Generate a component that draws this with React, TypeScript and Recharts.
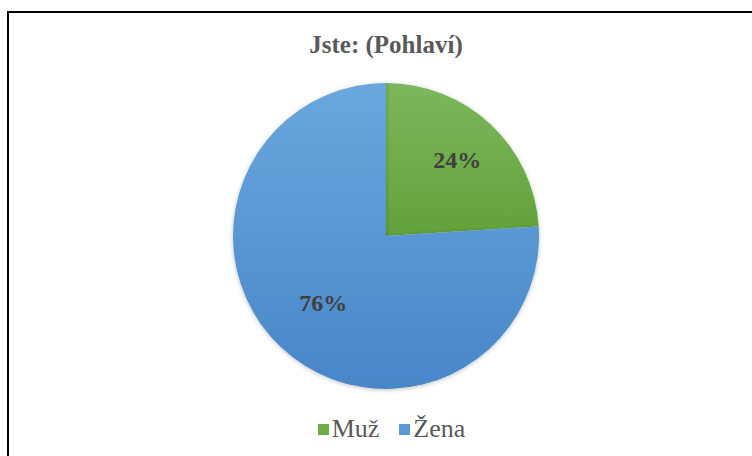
import { PieChart, Pie, Cell, Legend } from 'recharts'

const categories = ['Muž', 'Žena']
const shares = [24, 76]
const colors = ['#70AD47', '#5B9BD5']
const gradTop = ['#7DB75C', '#6AA7DE']
const gradBottom = ['#62A23A', '#4886C8']

const data = categories.map((name, i) => ({ name, value: shares[i] }))

const RAD = Math.PI / 180
const FONT = '"Liberation Serif", "Times New Roman", serif'

const renderLabel = ({ cx, cy, midAngle, outerRadius, index }: any) => {
  const r = outerRadius * (index === 0 ? 0.68 : 0.6)
  const x = cx + r * Math.cos(-midAngle * RAD)
  const y = cy + r * Math.sin(-midAngle * RAD)
  return (
    <text x={x} y={y} textAnchor="middle" dominantBaseline="central"
      style={{ fontFamily: FONT, fontSize: 24, fontWeight: 700, fill: '#404040' }}>
      {`${data[index].value}%`}
    </text>
  )
}

const LegendContent = () => (
  <div style={{ display: 'flex', justifyContent: 'center', gap: 20, fontFamily: FONT, fontSize: 26, color: '#595959' }}>
    {data.map((d, i) => (
      <span key={d.name} style={{ display: 'flex', alignItems: 'center', gap: 3 }}>
        <span style={{ width: 11, height: 11, display: 'inline-block', background: colors[i] }} />
        {d.name}
      </span>
    ))}
  </div>
)

export default function App() {
  return (
    <div style={{ position: 'absolute', left: 0, top: 0, width: 752, height: 456, overflow: 'hidden', background: '#fff' }}>
      <div style={{ position: 'absolute', left: 7, top: 11, width: 800, height: 500, border: '2px solid #000' }} />
      <div style={{ position: 'absolute', left: 0, top: 31, width: 772, textAlign: 'center', fontFamily: FONT, fontSize: 25, fontWeight: 700, color: '#595959' }}>
        Jste: (Pohlaví)
      </div>
      <div style={{ position: 'absolute', left: 0, top: 0 }}>
        <PieChart width={752} height={456} margin={{ top: 0, right: 0, bottom: 0, left: 0 }}>
          <defs>
            {colors.map((c, i) => (
              <linearGradient key={c} id={`g${i}`} x1="0" y1="0" x2="0" y2="1">
                <stop offset="0%" stopColor={gradTop[i]} />
                <stop offset="100%" stopColor={gradBottom[i]} />
              </linearGradient>
            ))}
            <filter id="sh" x="-10%" y="-10%" width="120%" height="120%">
              <feDropShadow dx="0" dy="1" stdDeviation="2" floodColor="#000" floodOpacity="0.25" />
            </filter>
          </defs>
          <Pie
            data={data}
            dataKey="value"
            nameKey="name"
            cx={386}
            cy={236}
            outerRadius={153}
            startAngle={90}
            endAngle={-270}
            stroke="none"
            label={renderLabel}
            labelLine={false}
            isAnimationActive={false}
            style={{ filter: 'url(#sh)' }}
          >
            {data.map((d, i) => (
              <Cell key={d.name} fill={`url(#g${i})`} />
            ))}
          </Pie>
          <Legend content={<LegendContent />} verticalAlign="bottom" wrapperStyle={{ left: 0, width: 783, bottom: 12 }} />
        </PieChart>
      </div>
    </div>
  )
}
